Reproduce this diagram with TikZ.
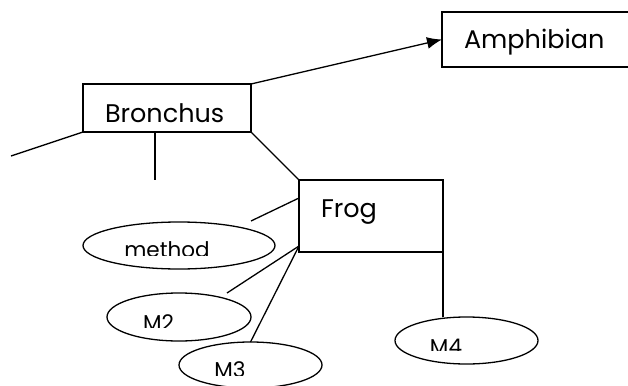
\documentclass[tikz,border=0pt]{standalone}
\usepackage{fontspec}
\setmainfont{Poppins}
\usetikzlibrary{arrows.meta}
\usetikzlibrary{shapes.geometric}
\usetikzlibrary{positioning}

% label inside an ellipse, cut off at a given depth
\newcommand{\cutlabel}[5]{%
  \begin{scope}
    \clip (#2-70,#3-40) rectangle (#2+70,#4);
    \node[methodtext] (#1) at (#2,#3) {#5};
  \end{scope}}

\begin{document}
\begin{tikzpicture}[
      x=1pt, y=-1pt,
      class/.style={rectangle, draw, line width=1.3pt, outer sep=0pt, inner ysep=0pt, inner xsep=22pt,
        align=left, anchor=north west, font=\fontsize{25.5}{29}\selectfont},
      method/.style={ellipse, draw, line width=1.3pt, outer sep=0pt, inner sep=0pt},
      methodtext/.style={anchor=base, inner sep=0pt, font=\fontsize{21.5}{25}\selectfont},
      link/.style={line width=1.3pt},
      arrow/.style={->, line width=1.3pt, >={Latex[length=15pt,width=12pt]}}
      ]
      \useasboundingbox (0,0) rectangle (628,385);
      \clip (0,0) rectangle (628,385);

      % Classes
      \node[class, minimum width=200, minimum height=55, text width=156, text height=20pt, text depth=1pt]
        (Amphibian) at (442,12) {Amphibian};
      \node[class, minimum width=168, minimum height=48, text width=124, text height=28pt, text depth=0pt]
        (Bronchus) at (83,84) {Bronchus};
      \node[class, minimum width=144, minimum height=72, text width=100, text height=12pt, text depth=10pt]
        (Frog) at (299,180) {Frog};

      % Methods
      \node[method, minimum width=192, minimum height=47] (method) at (179,245.5) {};
      \node[method, minimum width=144, minimum height=48] (M2) at (179,317) {};
      \node[method, minimum width=143, minimum height=46] (M3) at (250.5,365) {};
      \node[method, minimum width=143, minimum height=47] (M4) at (466.5,340.5) {};

      \cutlabel{methodlabel}{167}{257}{255}{method}
      \cutlabel{M2label}{158.5}{330}{327.5}{M2}
      \cutlabel{M3label}{230}{377}{375}{M3}
      \cutlabel{M4label}{446}{354}{350.5}{M4}

      % Loose ends
      \coordinate (leftend) at (11,156);
      \coordinate (downend) at (155,180);
      \coordinate (methodend) at (251,221);
      \coordinate (M2end) at (227,293);

      % Links
      \draw[arrow] (Bronchus.north east) -- (Amphibian.west);
      \draw[link] (Bronchus.south west) -- (leftend);
      \draw[link] (downend |- Bronchus.south) -- (downend);
      \draw[link] (Bronchus.south east) -- (Frog.north west);
      \draw[link] ([yshift=-18pt]Frog.north west) -- (methodend);
      \draw[link] ([yshift=6pt]Frog.south west) -- (M2end);
      \draw[link] ([yshift=6pt]Frog.south west) -- (M3.north);
      \draw[link] (Frog.south east) -- (Frog.south east |- M4.north);

    \end{tikzpicture}
\end{document}
